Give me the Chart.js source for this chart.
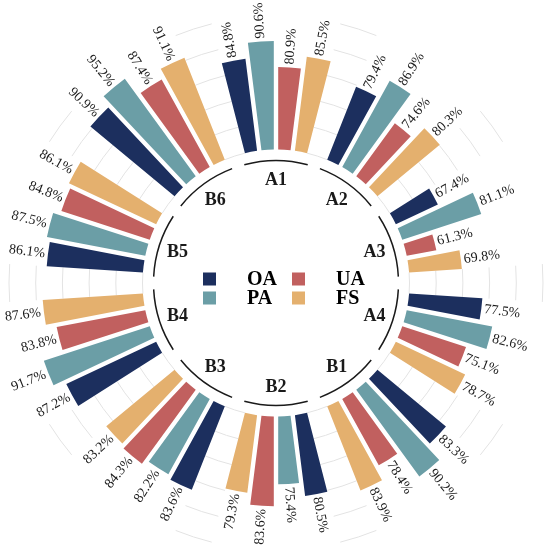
<!DOCTYPE html>
<html>
<head>
<meta charset="utf-8">
<script src="https://cdn.jsdelivr.net/npm/chart.js"></script>
<style>
  body { margin: 0; background: #fff; }
  canvas { display: block; }
</style>
</head>
<body>
<canvas id="myChart" width="550" height="552"></canvas>
<script>
// groups go clockwise from the top
const groups = ['A1', 'A2', 'A3', 'A4', 'B1', 'B2', 'B3', 'B4', 'B5', 'B6'];
const seriesNames = ['OA', 'PA', 'UA', 'FS'];
const seriesColors = ['#1c2f5e', '#6b9ea6', '#c1605f', '#e4b06e'];

const oaValues = [84.8, 79.4, 67.4, 77.5, 83.3, 80.5, 83.6, 87.2, 86.1, 90.9];
const paValues = [90.6, 86.9, 81.1, 82.6, 90.2, 75.4, 82.2, 91.7, 87.5, 95.2];
const uaValues = [80.9, 74.6, 61.3, 75.1, 78.4, 83.6, 84.3, 83.8, 84.8, 87.4];
const fsValues = [85.5, 80.3, 69.8, 78.7, 83.9, 79.3, 83.2, 87.6, 86.1, 91.1];

const baseValue = 50;              // bars start here
const gridValues = [50, 60, 70, 80, 90, 100];

// one slot per bar plus an empty slot after every group
let slotLabels = [], slotValues = [], slotColors = [];
groups.forEach((g, i) => {
    let vals = [oaValues[i], paValues[i], uaValues[i], fsValues[i]];
    vals.forEach((v, j) => {
        slotLabels.push(g + ' ' + seriesNames[j]);
        slotValues.push(v);
        slotColors.push(seriesColors[j]);
    });
    slotLabels.push('');
    slotValues.push(null);
    slotColors.push('rgba(0,0,0,0)');
});

const serif = '"Liberation Serif", "Times New Roman", serif';
const halfGap = 2.2; // px of white on each side of a bar

const radialBars = {
    id: 'radialBars',
    beforeDatasetsDraw(chart) {
        // faint grid, only visible in the empty slots
        const ctx = chart.ctx, scale = chart.scales.r;
        const meta = chart.getDatasetMeta(0);
        ctx.save();
        ctx.strokeStyle = '#e3e3e3';
        ctx.lineWidth = 1;
        meta.data.forEach((el, i) => {
            if (slotValues[i] !== null) return;
            gridValues.forEach(v => {
                let rad = scale.getDistanceFromCenterForValue(v);
                let p = halfGap / rad;
                ctx.beginPath();
                ctx.arc(scale.xCenter, scale.yCenter, rad, el.startAngle - p, el.endAngle + p);
                ctx.stroke();
            });
        });
        ctx.restore();
    },
    beforeDatasetDraw(chart, args) {
        const ctx = chart.ctx, scale = chart.scales.r;
        const inner = scale.getDistanceFromCenterForValue(baseValue);
        ctx.save();
        args.meta.data.forEach((el, i) => {
            if (slotValues[i] === null) return;
            let po = halfGap / el.outerRadius, pi = halfGap / inner;
            ctx.beginPath();
            ctx.arc(el.x, el.y, el.outerRadius, el.startAngle + po, el.endAngle - po);
            ctx.arc(el.x, el.y, inner, el.endAngle - pi, el.startAngle + pi, true);
            ctx.closePath();
            ctx.fillStyle = slotColors[i];
            ctx.fill();
        });
        ctx.restore();
        return false;
    },
    afterDatasetsDraw(chart) {
        const ctx = chart.ctx, scale = chart.scales.r;
        const meta = chart.getDatasetMeta(0);
        const cx = scale.xCenter, cy = scale.yCenter;
        const inner = scale.getDistanceFromCenterForValue(baseValue);
        ctx.save();

        // value labels along the bars
        ctx.font = '14px ' + serif;
        ctx.fillStyle = '#1a1a1a';
        ctx.textBaseline = 'middle';
        meta.data.forEach((el, i) => {
            if (slotValues[i] === null) return;
            let a = (el.startAngle + el.endAngle) / 2;
            let deg = ((a + Math.PI / 2) * 180 / Math.PI + 720) % 360;
            let flip = deg > 180 && deg < 342;
            let rr = el.outerRadius + 3;
            ctx.save();
            ctx.translate(cx + Math.cos(a) * rr, cy + Math.sin(a) * rr);
            ctx.rotate(flip ? a + Math.PI : a);
            ctx.textAlign = flip ? 'right' : 'left';
            ctx.fillText(slotValues[i].toFixed(1) + '%', 0, 0);
            ctx.restore();
        });

        // inner ring pieces and group names
        ctx.strokeStyle = '#1a1a1a';
        ctx.lineWidth = 1.5;
        ctx.font = 'bold 18px ' + serif;
        ctx.textAlign = 'center';
        groups.forEach((g, i) => {
            let first = meta.data[i * 5], last = meta.data[i * 5 + 3];
            let mid = (first.startAngle + last.endAngle) / 2;
            let half = 15 * Math.PI / 180;
            ctx.beginPath();
            ctx.arc(cx, cy, inner - 11, mid - half, mid + half);
            ctx.stroke();
            ctx.fillText(g, cx + Math.cos(mid) * (inner - 30), cy + Math.sin(mid) * (inner - 30) + 1);
        });

        // legend in the middle
        ctx.font = 'bold 20px ' + serif;
        ctx.textAlign = 'left';
        seriesNames.forEach((name, j) => {
            let col = j === 0 || j === 1 ? 0 : 1;
            let row = j === 0 || j === 2 ? 0 : 1;
            let bx = cx - 73 + col * 89, by = cy - 4 + row * 19;
            ctx.fillStyle = seriesColors[j];
            ctx.fillRect(bx, by - 6.5, 13, 13);
            ctx.fillStyle = '#000';
            ctx.fillText(name, bx + 44, by + 1);
        });
        ctx.restore();
    }
};

let myChart = document.getElementById('myChart').getContext('2d');

let chart = new Chart(myChart, {
    type: 'polarArea',
    data: {
        labels: slotLabels,
        datasets: [{
            data: slotValues,
            backgroundColor: slotColors,
            borderWidth: 0
        }]
    },
    options: {
        responsive: false,
        animation: false,
        layout: { padding: { left: 9, right: 7, top: 16, bottom: 2 } },
        plugins: {
            legend: { display: false },
            tooltip: { enabled: false }
        },
        scales: {
            r: {
                min: 0,
                max: 100,
                startAngle: -14.4,
                ticks: { display: false },
                grid: { display: false },
                angleLines: { display: false },
                pointLabels: { display: false }
            }
        }
    },
    plugins: [radialBars]
});
</script>
</body>
</html>
